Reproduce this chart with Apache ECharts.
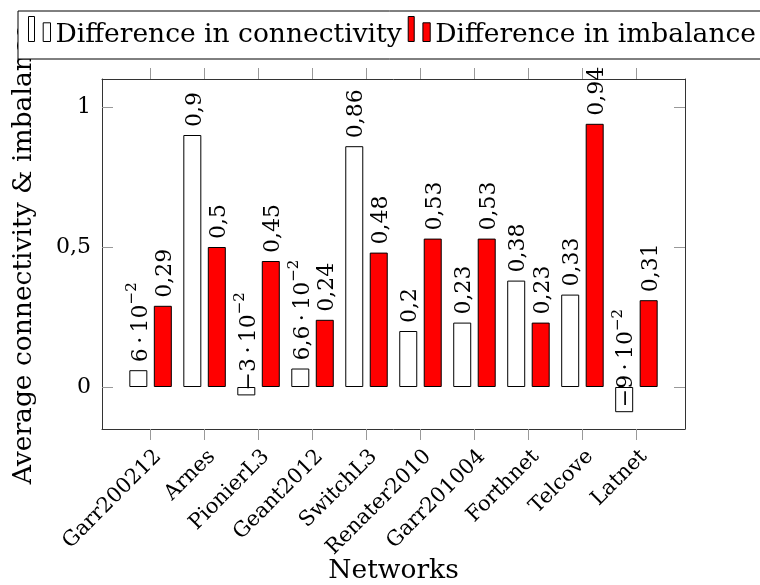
<!DOCTYPE html>
<html>
<head>
<meta charset="utf-8">
<script src="https://cdn.jsdelivr.net/npm/echarts@6/dist/echarts.min.js"></script>
<style>
  html, body { margin: 0; padding: 0; background: #fff; }
  #chart { width: 760px; height: 585px; }
</style>
</head>
<body>
<div id="chart"></div>
<script>
// Networks on the x axis and the two measured differences per network
const networks = ['Garr200212', 'Arnes', 'PionierL3', 'Geant2012', 'SwitchL3',
                  'Renater2010', 'Garr201004', 'Forthnet', 'Telcove', 'Latnet'];
const connectivityDiff = [0.06, 0.9, -0.03, 0.066, 0.86, 0.2, 0.23, 0.38, 0.33, -0.09];
const imbalanceDiff = [0.29, 0.5, 0.45, 0.24, 0.48, 0.53, 0.53, 0.23, 0.94, 0.31];
const yTicks = [0, 0.5, 1];
const seriesNames = ['Difference in connectivity', 'Difference in imbalance'];

const FONT = 'DejaVu Serif';
const xTicks = networks.map((_, i) => i);

// decimal comma
function fmtNum(v) { return String(v).replace('.', ','); }

// small values in scientific form (m·10^e), others as plain decimals
function nodeLabel(v) {
  const a = Math.abs(v);
  const sign = v < 0 ? '\u2212' : '';
  if (a !== 0 && a < 0.1) {
    const e = Math.floor(Math.log10(a) + 1e-9);
    const m = +(a / Math.pow(10, e)).toFixed(3);
    return '{m|' + sign + fmtNum(m) + '\u2009\u00b7\u200910}{s|\u2212' + (-e) + '}';
  }
  return '{m|' + sign + fmtNum(+a.toFixed(3)) + '}';
}

const labelRich = {
  m: { fontFamily: FONT, fontSize: 22, color: '#000', lineHeight: 27, verticalAlign: 'bottom' },
  s: { fontFamily: FONT, fontSize: 15, color: '#000', lineHeight: 15, verticalAlign: 'top' }
};

function barData(values) {
  return values.map((v, i) => {
    const item = { value: [i, v] };
    if (v < 0) item.label = { position: 'insideBottom', distance: 5 };
    return item;
  });
}

function barSeries(name, values, color) {
  return {
    name: name,
    type: 'bar',
    xAxisIndex: 0,
    yAxisIndex: 0,
    barWidth: 18,
    barGap: '36%',
    itemStyle: { color: color, borderColor: '#000', borderWidth: 1 },
    label: {
      show: true,
      position: 'top',
      distance: 8,
      rotate: 90,
      align: 'left',
      verticalAlign: 'middle',
      formatter: p => nodeLabel(p.value[1]),
      rich: labelRich
    },
    emphasis: { disabled: true },
    data: barData(values)
  };
}

// two-bar glyph used as legend marker
const legendIcon = 'path://M0,0h6v25h-6zM14.7,6.3h7.3v18.7h-7.3zM0,37h0';

const frameLine = { show: true, onZero: false, lineStyle: { color: '#333', width: 1 } };
const tickLine = { color: '#999', width: 1 };

const chart = echarts.init(document.getElementById('chart'), null, { renderer: 'canvas' });

chart.setOption({
  animation: false,
  backgroundColor: '#fff',
  textStyle: { fontFamily: FONT },
  grid: { left: 102, right: 75, top: 79, bottom: 156, containLabel: false, outerBoundsMode: 'none' },
  legend: {
    left: 18,
    top: 11,
    width: 800,
    orient: 'horizontal',
    padding: [5, 9, 5, 10],
    itemGap: 6,
    itemWidth: 22,
    itemHeight: 37,
    backgroundColor: '#fff',
    borderColor: '#000',
    borderWidth: 1,
    borderRadius: 0,
    selectedMode: false,
    textStyle: { fontFamily: FONT, fontSize: 26.5, color: '#000', lineHeight: 30 },
    data: [
      { name: seriesNames[0], icon: legendIcon, itemStyle: { color: '#fff', borderColor: '#000', borderWidth: 1 } },
      { name: seriesNames[1], icon: legendIcon, itemStyle: { color: '#ff0000', borderColor: '#000', borderWidth: 1 } }
    ]
  },
  xAxis: [
    {
      type: 'value',
      position: 'bottom',
      min: -0.9,
      max: 9.9,
      axisLine: frameLine,
      splitLine: { show: false },
      axisTick: { show: true, inside: false, length: 11, customValues: xTicks, lineStyle: tickLine },
      axisLabel: {
        show: true,
        customValues: xTicks,
        rotate: 45,
        margin: 17,
        align: 'right',
        verticalAlign: 'top',
        fontFamily: FONT,
        fontSize: 21,
        color: '#000',
        formatter: v => networks[Math.round(v)]
      },
      name: 'Networks',
      nameLocation: 'middle',
      nameGap: 129,
      nameMoveOverlap: false,
      nameTextStyle: { fontFamily: FONT, fontSize: 26.5, color: '#000' }
    },
    {
      type: 'value',
      position: 'top',
      min: -0.9,
      max: 9.9,
      axisLine: frameLine,
      splitLine: { show: false },
      axisTick: { show: true, inside: false, length: 11, customValues: xTicks, lineStyle: tickLine },
      axisLabel: { show: false }
    }
  ],
  yAxis: [
    {
      type: 'value',
      position: 'left',
      min: -0.15,
      max: 1.1,
      axisLine: frameLine,
      splitLine: { show: false },
      axisTick: { show: true, inside: true, length: 11, customValues: yTicks, lineStyle: tickLine },
      axisLabel: {
        show: true,
        customValues: yTicks,
        margin: 11,
        fontFamily: FONT,
        fontSize: 22,
        color: '#000',
        formatter: v => fmtNum(v)
      },
      name: 'Average connectivity & imbalance',
      nameLocation: 'middle',
      nameRotate: 90,
      nameGap: 64,
      nameMoveOverlap: false,
      nameTextStyle: { fontFamily: FONT, fontSize: 26.5, color: '#000' }
    },
    {
      type: 'value',
      position: 'right',
      min: -0.15,
      max: 1.1,
      axisLine: frameLine,
      splitLine: { show: false },
      axisTick: { show: true, inside: true, length: 11, customValues: yTicks, lineStyle: tickLine },
      axisLabel: { show: false }
    }
  ],
  series: [
    barSeries(seriesNames[0], connectivityDiff, '#ffffff'),
    barSeries(seriesNames[1], imbalanceDiff, '#ff0000')
  ]
});
</script>
</body>
</html>
